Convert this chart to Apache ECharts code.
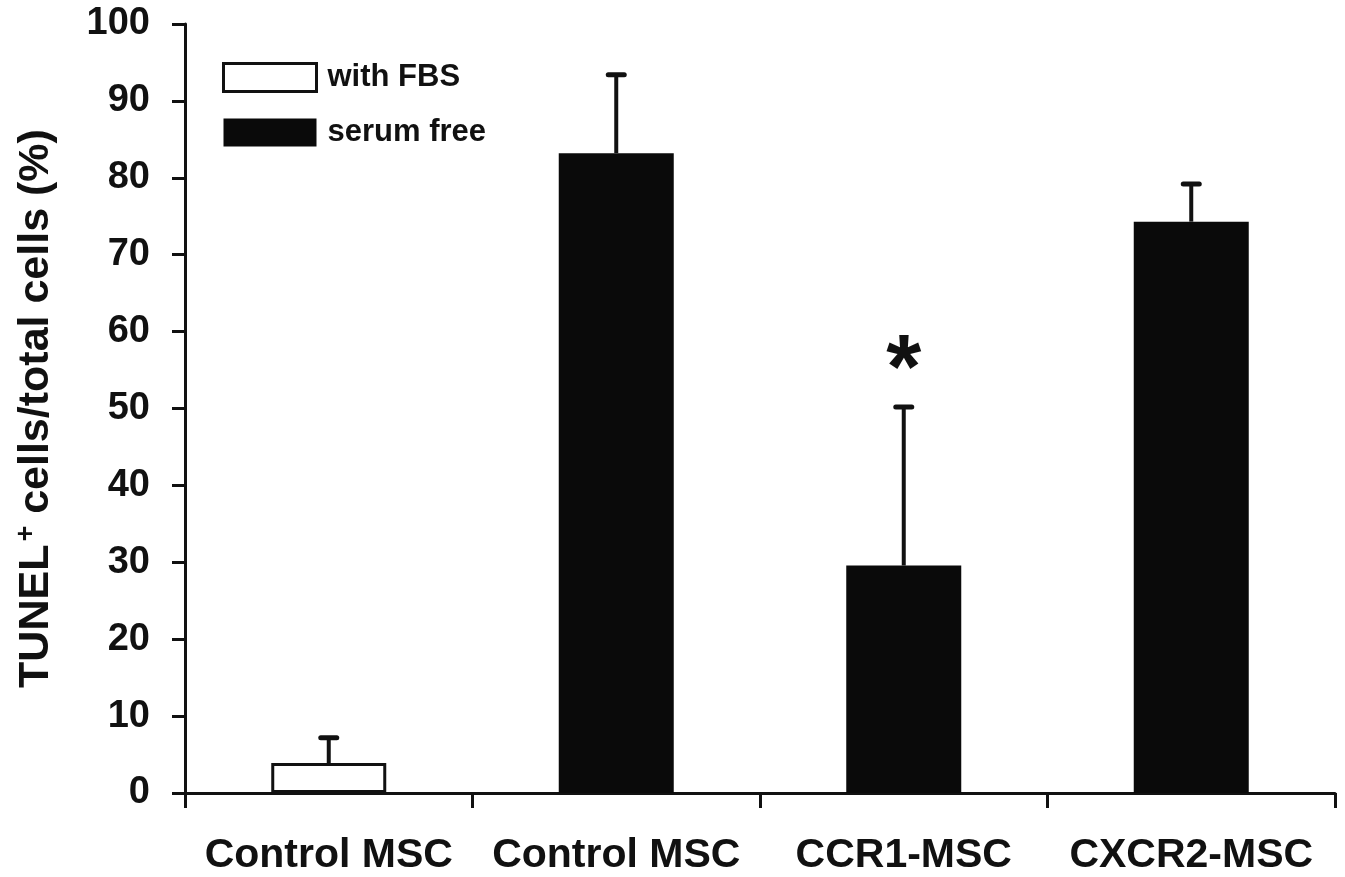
<!DOCTYPE html>
<html>
<head>
<meta charset="utf-8">
<script src="https://cdn.jsdelivr.net/npm/echarts@6/dist/echarts.min.js"></script>
<style>
  html, body { margin: 0; padding: 0; background: #fff; }
  #chart { width: 1345px; height: 877px; }
</style>
</head>
<body>
<div id="chart"></div>
<script>
// Groups along the x axis
const categories = ['Control MSC', 'Control MSC', 'CCR1-MSC', 'CXCR2-MSC'];
// Mean TUNEL+ percentage per group, split by culture condition
const withFBS = [3.9, '-', '-', '-'];
const serumFree = ['-', 83.2, 29.6, 74.3];
// Upper end of each error bar (mean + SD)
const errorTop = [7.2, 93.4, 50.2, 79.2];
// Significance markers
const significance = ['', '', '*', ''];
const yTicks = { min: 0, max: 100, interval: 10 };

const FONT = '"Liberation Sans", Arial, sans-serif';

const means = categories.map((c, i) => (withFBS[i] !== '-' ? withFBS[i] : serumFree[i]));
const errorData = categories.map((c, i) => [i, means[i], errorTop[i], significance[i]]);

const chart = echarts.init(document.getElementById('chart'));
chart.setOption({
  animation: false,
  backgroundColor: '#fff',
  grid: { left: 185, right: 10, top: 24, bottom: 84, containLabel: false },
  legend: {
    orient: 'vertical',
    left: 222,
    top: 62,
    padding: 0,
    itemWidth: 93,
    itemHeight: 28,
    itemGap: 24,
    textStyle: { fontFamily: FONT, fontWeight: 'bold', fontSize: 31, lineHeight: 28, color: '#111', padding: [0, 0, 0, 6] },
    data: [
      { name: 'with FBS', icon: 'rect', itemStyle: { color: '#fff', borderColor: '#111', borderWidth: 3 } },
      { name: 'serum free', icon: 'rect', itemStyle: { color: '#0a0a0a' } }
    ]
  },
  xAxis: {
    type: 'category',
    data: categories,
    boundaryGap: true,
    axisLine: { lineStyle: { color: '#111', width: 3 } },
    axisTick: { show: true, interval: 0, length: 15, lineStyle: { color: '#111', width: 3 } },
    axisLabel: { interval: 0, hideOverlap: false, margin: 42, fontFamily: FONT, fontWeight: 'bold', fontSize: 41, color: '#111' }
  },
  yAxis: {
    type: 'value',
    min: yTicks.min,
    max: yTicks.max,
    interval: yTicks.interval,
    name: '{b|TUNEL}{s|+}{b| cells/total cells (%)}',
    nameLocation: 'middle',
    nameGap: 126,
    nameRotate: 90,
    nameTextStyle: {
      rich: {
        b: { fontFamily: FONT, fontWeight: 'bold', fontSize: 43, color: '#111' },
        s: { fontFamily: FONT, fontWeight: 'bold', fontSize: 27, color: '#111', verticalAlign: 'top', padding: [0, 0, 19, 3] }
      }
    },
    axisLine: { show: true, lineStyle: { color: '#111', width: 3 } },
    axisTick: { show: true, length: 13, lineStyle: { color: '#111', width: 3 } },
    splitLine: { show: false },
    axisLabel: { margin: 35, fontFamily: FONT, fontWeight: 'bold', fontSize: 38, color: '#111' }
  },
  series: [
    {
      name: 'with FBS',
      type: 'bar',
      data: withFBS,
      barWidth: 115,
      barGap: '-100%',
      itemStyle: { color: '#fff', borderColor: '#111', borderWidth: 3 }
    },
    {
      name: 'serum free',
      type: 'bar',
      data: serumFree,
      barWidth: 115,
      barGap: '-100%',
      itemStyle: { color: '#0a0a0a' }
    },
    {
      name: 'error',
      type: 'custom',
      data: errorData,
      z: 10,
      renderItem: function (params, api) {
        const x = api.value(0);
        const base = api.coord([x, api.value(1)]);
        const top = api.coord([x, api.value(2)]);
        const sig = api.value(3);
        const capHalf = 8;
        const children = [
          { type: 'line', shape: { x1: base[0], y1: base[1], x2: top[0], y2: top[1] },
            style: { stroke: '#111', lineWidth: 4 } },
          { type: 'line', shape: { x1: top[0] - capHalf, y1: top[1], x2: top[0] + capHalf, y2: top[1] },
            style: { stroke: '#111', lineWidth: 5, lineCap: 'round' } }
        ];
        if (sig) {
          children.push({
            type: 'text',
            style: {
              text: sig, x: top[0], y: top[1] + 11,
              align: 'center', verticalAlign: 'bottom',
              fontFamily: FONT, fontWeight: 'bold', fontSize: 90, fill: '#111'
            }
          });
        }
        return { type: 'group', children: children };
      }
    }
  ]
});
</script>
</body>
</html>
